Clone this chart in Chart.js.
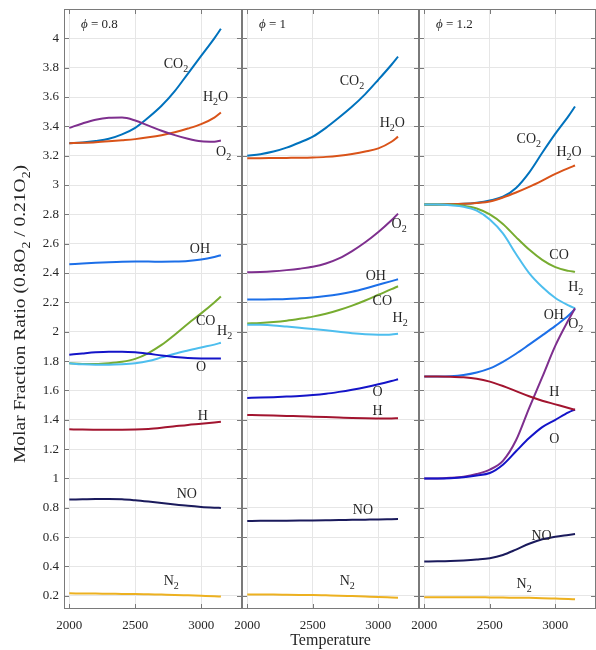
<!DOCTYPE html>
<html>
<head>
<meta charset="utf-8">
<script src="https://cdn.jsdelivr.net/npm/chart.js@4.4.1/dist/chart.umd.min.js"></script>
<style>
  html, body { margin: 0; padding: 0; background: #fff; }
  #wrap { position: relative; width: 596px; height: 650px; background: #fff; }
  #wrap canvas { position: absolute; top: 0; }
</style>
</head>
<body>
<div id="wrap">
  <canvas id="p1" width="242" height="650" style="left:0px"></canvas>
  <canvas id="p2" width="197" height="650" style="left:222px"></canvas>
  <canvas id="p3" width="197" height="650" style="left:399px"></canvas>
</div>
<script>
// Temperature samples shared by every curve
const temps = [2000, 2100, 2200, 2300, 2400, 2500, 2600, 2700, 2800, 2900, 3000, 3100, 3150];

// Axis ticks
const xTickValues = [2000, 2500, 3000];
const yTickValues = [0.2, 0.4, 0.6, 0.8, 1, 1.2, 1.4, 1.6, 1.8, 2, 2.2, 2.4, 2.6, 2.8, 3, 3.2, 3.4, 3.6, 3.8, 4];

// Equivalence ratios of the three panels
const phiValues = ['0.8', '1', '1.2'];

// phi = 0.8
const co2Phi08 = [3.285, 3.29, 3.30, 3.315, 3.345, 3.39, 3.46, 3.54, 3.64, 3.76, 3.88, 4.00, 4.065];
const h2oPhi08 = [3.285, 3.288, 3.292, 3.298, 3.305, 3.313, 3.325, 3.34, 3.36, 3.385, 3.415, 3.46, 3.495];
const o2Phi08  = [3.39, 3.42, 3.445, 3.458, 3.46, 3.44, 3.405, 3.37, 3.34, 3.315, 3.298, 3.295, 3.303];
const ohPhi08  = [2.46, 2.465, 2.47, 2.474, 2.477, 2.478, 2.478, 2.477, 2.478, 2.482, 2.492, 2.51, 2.522];
const coPhi08  = [1.785, 1.78, 1.78, 1.785, 1.795, 1.815, 1.855, 1.91, 1.98, 2.055, 2.125, 2.2, 2.24];
const h2Phi08  = [1.785, 1.778, 1.775, 1.775, 1.778, 1.785, 1.80, 1.825, 1.85, 1.872, 1.893, 1.912, 1.925];
const oPhi08   = [1.843, 1.852, 1.86, 1.864, 1.864, 1.86, 1.85, 1.838, 1.828, 1.821, 1.818, 1.817, 1.818];
const hPhi08   = [1.335, 1.333, 1.332, 1.332, 1.332, 1.333, 1.337, 1.345, 1.355, 1.365, 1.373, 1.382, 1.387];
const noPhi08  = [0.856, 0.858, 0.86, 0.86, 0.858, 0.851, 0.842, 0.832, 0.822, 0.813, 0.806, 0.801, 0.799];
const n2Phi08  = [0.217, 0.216, 0.215, 0.214, 0.213, 0.212, 0.21, 0.208, 0.206, 0.203, 0.2, 0.197, 0.195];

// phi = 1
const co2Phi10 = [3.199, 3.21, 3.228, 3.255, 3.29, 3.33, 3.39, 3.46, 3.535, 3.62, 3.718, 3.82, 3.875];
const h2oPhi10 = [3.183, 3.183, 3.184, 3.185, 3.186, 3.188, 3.192, 3.20, 3.212, 3.228, 3.25, 3.295, 3.33];
const o2Phi10  = [2.405, 2.407, 2.412, 2.42, 2.43, 2.443, 2.465, 2.50, 2.55, 2.61, 2.68, 2.76, 2.805];
const ohPhi10  = [2.219, 2.22, 2.221, 2.224, 2.228, 2.234, 2.243, 2.256, 2.273, 2.295, 2.32, 2.345, 2.358];
const coPhi10  = [2.057, 2.06, 2.066, 2.075, 2.088, 2.103, 2.123, 2.148, 2.178, 2.213, 2.252, 2.29, 2.31];
const h2Phi10  = [2.048, 2.047, 2.043, 2.035, 2.027, 2.019, 2.01, 2.0, 1.99, 1.983, 1.98, 1.982, 1.987];
const oPhi10   = [1.549, 1.551, 1.554, 1.558, 1.562, 1.568, 1.577, 1.59, 1.605, 1.622, 1.642, 1.664, 1.676];
const hPhi10   = [1.432, 1.431, 1.429, 1.426, 1.424, 1.421, 1.418, 1.415, 1.412, 1.41, 1.409, 1.409, 1.41];
const noPhi10  = [0.71, 0.711, 0.711, 0.712, 0.713, 0.714, 0.715, 0.716, 0.718, 0.719, 0.72, 0.722, 0.723];
const n2Phi10  = [0.208, 0.208, 0.208, 0.207, 0.206, 0.205, 0.203, 0.201, 0.198, 0.195, 0.192, 0.188, 0.186];

// phi = 1.2
const co2Phi12 = [2.868, 2.868, 2.869, 2.872, 2.88, 2.895, 2.92, 2.98, 3.085, 3.22, 3.35, 3.47, 3.535];
const h2oPhi12 = [2.868, 2.868, 2.869, 2.872, 2.878, 2.888, 2.915, 2.949, 2.987, 3.03, 3.076, 3.115, 3.133];
const coPhi12  = [2.868, 2.868, 2.866, 2.859, 2.84, 2.80, 2.735, 2.645, 2.56, 2.49, 2.44, 2.415, 2.408];
const h2Phi12  = [2.868, 2.867, 2.862, 2.852, 2.825, 2.765, 2.67, 2.53, 2.40, 2.305, 2.23, 2.18, 2.16];
const ohPhi12  = [1.695, 1.695, 1.697, 1.705, 1.722, 1.75, 1.795, 1.85, 1.912, 1.975, 2.04, 2.11, 2.155];
const o2Phi12  = [1.0, 1.0, 1.004, 1.012, 1.03, 1.06, 1.12, 1.26, 1.48, 1.69, 1.905, 2.08, 2.16];
const hPhi12   = [1.695, 1.695, 1.694, 1.69, 1.68, 1.66, 1.63, 1.595, 1.56, 1.53, 1.505, 1.48, 1.468];
const oPhi12   = [1.0, 1.0, 1.002, 1.008, 1.02, 1.037, 1.094, 1.185, 1.275, 1.35, 1.4, 1.45, 1.47];
const noPhi12  = [0.434, 0.435, 0.437, 0.441, 0.447, 0.456, 0.478, 0.515, 0.555, 0.585, 0.603, 0.615, 0.621];
const n2Phi12  = [0.19, 0.19, 0.19, 0.19, 0.19, 0.189, 0.188, 0.187, 0.186, 0.184, 0.181, 0.178, 0.176];

// Line colours per species
const speciesColors = {
  CO2: '#0072BD', H2O: '#D95319', O2: '#7E2F8E', OH: '#1C6FE8', CO: '#77AC30',
  H2: '#4DBEEE', O: '#1414C8', H: '#A2142F', NO: '#1A1A5C', N2: '#EDB120'
};

// Curve label anchors (temperature, ratio); "_" marks a subscript
const labelsPhi08 = [
  ['CO_2', 2716, 3.825], ['H_2O', 3014, 3.60], ['O_2', 3113, 3.225], ['OH', 2914, 2.565],
  ['CO', 2961, 2.07], ['H_2', 3121, 2.0], ['O', 2961, 1.76], ['H', 2975, 1.42],
  ['NO', 2815, 0.889], ['N_2', 2716, 0.296]
];
const labelsPhi10 = [
  ['CO_2', 2705, 3.71], ['H_2O', 3010, 3.42], ['O_2', 3101, 2.735], ['OH', 2903, 2.375],
  ['CO', 2956, 2.205], ['H_2', 3108, 2.09], ['O', 2956, 1.585], ['H', 2956, 1.46],
  ['NO', 2805, 0.78], ['N_2', 2705, 0.296]
];
const labelsPhi12 = [
  ['CO_2', 2704, 3.31], ['H_2O', 3008, 3.22], ['CO', 2954, 2.52], ['H_2', 3098, 2.3],
  ['OH', 2911, 2.11], ['O_2', 3098, 2.05], ['H', 2954, 1.585], ['O', 2954, 1.265],
  ['NO', 2818, 0.605], ['N_2', 2704, 0.28]
];

const SERIF = '"Liberation Serif", "Times New Roman", serif';
const TEXT_COLOR = '#262626';

// Draws text where "_x" is rendered as a subscript; returns the width
function drawRich(ctx, text, x, y, size, measureOnly) {
  let cx = x;
  for (let i = 0; i < text.length; i++) {
    let ch = text[i], sub = false;
    if (ch === '_') { sub = true; ch = text[++i]; }
    const fs = sub ? Math.round(size * 0.72) : size;
    ctx.font = fs + 'px ' + SERIF;
    if (!measureOnly) ctx.fillText(ch, cx, sub ? y + size * 0.36 : y);
    cx += ctx.measureText(ch).width;
  }
  return cx - x;
}

function makeLabelPlugin(items, phi) {
  return {
    id: 'curveLabels',
    afterDatasetsDraw(chart) {
      const ctx = chart.ctx, xs = chart.scales.x, ys = chart.scales.y;
      ctx.save();
      ctx.fillStyle = TEXT_COLOR;
      ctx.textBaseline = 'middle';
      ctx.textAlign = 'left';
      items.forEach(([txt, t, v]) => {
        drawRich(ctx, txt, xs.getPixelForValue(t), ys.getPixelForValue(v), 14);
      });
      // phi annotation in the top left corner
      const a = chart.chartArea;
      ctx.font = 'italic 13px ' + SERIF;
      ctx.fillText('\u03D5', a.left + 17, a.top + 16);
      const w = ctx.measureText('\u03D5').width;
      ctx.font = '13px ' + SERIF;
      ctx.fillText(' = ' + phi, a.left + 17 + w, a.top + 16);
      ctx.restore();
    }
  };
}

// Box and inward tick marks
const framePlugin = {
  id: 'frame',
  afterDatasetsDraw(chart) {
    const ctx = chart.ctx, a = chart.chartArea, xs = chart.scales.x, ys = chart.scales.y;
    ctx.save();
    ctx.strokeStyle = '#7a7a7a';
    ctx.lineWidth = 1;
    ctx.strokeRect(a.left + 0.5, a.top + 0.5, a.right - a.left - 1, a.bottom - a.top - 1);
    ctx.beginPath();
    xTickValues.forEach(v => {
      const px = Math.round(xs.getPixelForValue(v)) + 0.5;
      ctx.moveTo(px, a.bottom); ctx.lineTo(px, a.bottom - 5);
      ctx.moveTo(px, a.top); ctx.lineTo(px, a.top + 5);
    });
    yTickValues.forEach(v => {
      const py = Math.round(ys.getPixelForValue(v)) + 0.5;
      ctx.moveTo(a.left, py); ctx.lineTo(a.left + 5, py);
      ctx.moveTo(a.right, py); ctx.lineTo(a.right - 5, py);
    });
    ctx.stroke();
    ctx.restore();
  }
};

// Rotated y-axis title with subscripts, stretched slightly along its baseline
const yTitlePlugin = {
  id: 'yTitle',
  afterDraw(chart) {
    const ctx = chart.ctx, a = chart.chartArea;
    const txt = 'Molar Fraction Ratio (0.8O_2 / 0.21O_2)';
    ctx.save();
    ctx.fillStyle = TEXT_COLOR;
    ctx.textBaseline = 'middle';
    ctx.textAlign = 'left';
    const w = drawRich(ctx, txt, 0, 0, 17, true);
    ctx.translate(21, (a.top + a.bottom) / 2 + 5);
    ctx.rotate(-Math.PI / 2);
    ctx.scale(298 / w, 1);
    drawRich(ctx, txt, -w / 2, 0, 17);
    ctx.restore();
  }
};

function buildDatasets(series) {
  return series.map(([name, values]) => ({
    label: name,
    data: values.map((v, i) => ({ x: temps[i], y: v })),
    borderColor: speciesColors[name],
    backgroundColor: speciesColors[name],
    borderWidth: 2,
    pointRadius: 0,
    fill: false,
    cubicInterpolationMode: 'monotone'
  }));
}

function makePanel(id, series, labels, phi, first, titleX) {
  const plugins = [framePlugin, makeLabelPlugin(labels, phi)];
  if (first) plugins.push(yTitlePlugin);
  return new Chart(document.getElementById(id), {
    type: 'line',
    data: { datasets: buildDatasets(series) },
    plugins,
    options: {
      responsive: false,
      animation: false,
      devicePixelRatio: 1,
      layout: { padding: { left: first ? 0 : 20, right: 0, top: 9, bottom: 0 } },
      plugins: { legend: { display: false }, tooltip: { enabled: false } },
      scales: {
        x: {
          type: 'linear',
          min: 1960, max: 3310,
          afterBuildTicks: s => { s.ticks = xTickValues.map(v => ({ value: v })); },
          afterFit: s => { s.height = 41; s.paddingLeft = 0; s.paddingRight = 0; },
          grid: { color: '#e6e6e6', lineWidth: 1, drawTicks: false },
          border: { display: false },
          ticks: {
            padding: 9, maxRotation: 0, autoSkip: false,
            color: TEXT_COLOR, font: { family: SERIF, size: 13 },
            callback: v => String(v)
          },
          title: {
            display: titleX, text: 'Temperature', color: TEXT_COLOR,
            font: { family: SERIF, size: 16 }, padding: { top: 0, bottom: 0 }
          }
        },
        y: {
          type: 'linear',
          min: 0.11, max: 4.2,
          afterBuildTicks: s => { s.ticks = yTickValues.map(v => ({ value: v })); },
          afterFit: s => { s.width = first ? 64 : 0; s.paddingTop = 0; s.paddingBottom = 0; },
          grid: { color: '#e6e6e6', lineWidth: 1, drawTicks: false },
          border: { display: false },
          ticks: {
            display: first, padding: 5, autoSkip: false,
            color: TEXT_COLOR, font: { family: SERIF, size: 13 },
            callback: v => String(parseFloat(Number(v).toFixed(1)))
          }
        }
      }
    }
  });
}

makePanel('p1', [
  ['N2', n2Phi08], ['NO', noPhi08], ['H', hPhi08], ['O', oPhi08], ['H2', h2Phi08],
  ['CO', coPhi08], ['OH', ohPhi08], ['O2', o2Phi08], ['H2O', h2oPhi08], ['CO2', co2Phi08]
], labelsPhi08, phiValues[0], true, false);

makePanel('p2', [
  ['N2', n2Phi10], ['NO', noPhi10], ['H', hPhi10], ['O', oPhi10], ['H2', h2Phi10],
  ['CO', coPhi10], ['OH', ohPhi10], ['O2', o2Phi10], ['H2O', h2oPhi10], ['CO2', co2Phi10]
], labelsPhi10, phiValues[1], false, true);

makePanel('p3', [
  ['N2', n2Phi12], ['NO', noPhi12], ['H', hPhi12], ['O', oPhi12], ['O2', o2Phi12],
  ['OH', ohPhi12], ['H2', h2Phi12], ['CO', coPhi12], ['H2O', h2oPhi12], ['CO2', co2Phi12]
], labelsPhi12, phiValues[2], false, false);
</script>
</body>
</html>
